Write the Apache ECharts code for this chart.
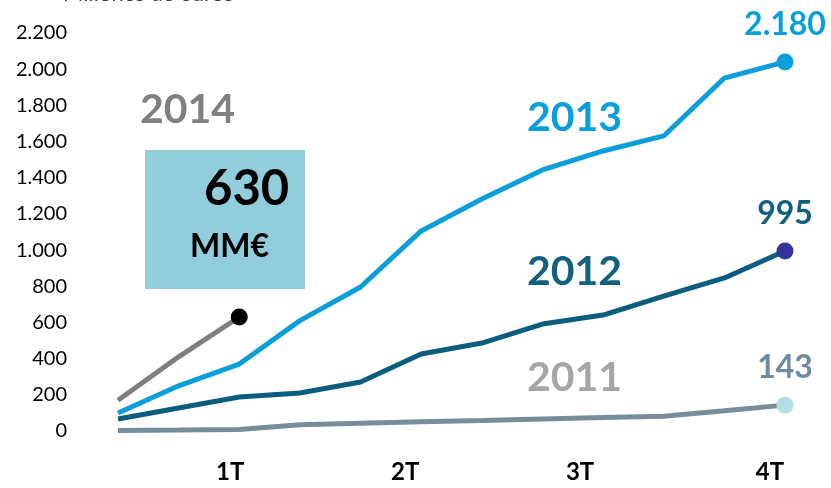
<!DOCTYPE html>
<html>
<head>
<meta charset="utf-8">
<script src="https://cdn.jsdelivr.net/npm/echarts@6/dist/echarts.min.js"></script>
<style>
  html, body { margin: 0; padding: 0; background: #fff; }
  #chart { width: 831px; height: 488px; }
</style>
</head>
<body>
<div id="chart"></div>
<script>
// months of the year, quarter labels shown at Mar / Jun / Sep / Dec
const months = ['Ene', 'Feb', 'Mar', 'Abr', 'May', 'Jun', 'Jul', 'Ago', 'Sep', 'Oct', 'Nov', 'Dic'];
const quarterLabels = { 2: '1T', 5: '2T', 8: '3T', 11: '4T' };

// accumulated values (MM€)
const values2011 = [3, 5, 8, 35, 43, 51, 58, 66, 74, 82, 112, 143];
const values2012 = [66, 127, 188, 210, 271, 426, 486, 591, 641, 746, 846, 995];
const values2013 = [100, 250, 370, 610, 796, 1106, 1282, 1443, 1548, 1631, 1951, 2040];
const values2014 = [170, 410, 630];

// texts shown above the last point of each year
const endLabel2011 = '143';
const endLabel2012 = '995';
const endLabel2013 = '2.180';

const yTicks = { min: 0, max: 2200, interval: 200 };

const FONT = 'Lato';

const chart = echarts.init(document.getElementById('chart'));

function thousands(v) {
  return String(v).replace(/\B(?=(\d{3})+(?!\d))/g, '.');
}

function yearSeries(name, data, lineColor, dotColor, endText, labelColor) {
  const last = data.length - 1;
  return {
    name: name,
    type: 'line',
    data: data,
    smooth: false,
    showAllSymbol: true,
    symbol: 'circle',
    symbolSize: (v, p) => (p.dataIndex === last ? 17 : 0),
    lineStyle: { color: lineColor, width: 5 },
    itemStyle: { color: dotColor },
    label: {
      show: true,
      position: 'top',
      distance: 13,
      formatter: p => (p.dataIndex === last ? endText : ''),
      color: labelColor,
      fontFamily: FONT,
      fontWeight: 'bold',
      fontSize: 32
    },
    emphasis: { disabled: true },
    z: 3
  };
}

const quarterStyle = pad => ({
  padding: [0, pad, 0, 0], fontFamily: FONT, fontWeight: 'bold', fontSize: 24, color: '#000'
});

const option = {
  animation: false,
  backgroundColor: '#fff',
  grid: { left: 118, right: 46, top: 33, bottom: 57 },
  xAxis: {
    type: 'category',
    data: months,
    boundaryGap: false,
    axisLine: { show: false },
    axisTick: { show: false },
    splitLine: { show: false },
    axisLabel: {
      interval: i => quarterLabels[i] !== undefined,
      margin: 29,
      formatter: (v, i) => {
        const q = quarterLabels[i];
        return q ? '{q' + i + '|' + q + '}' : '';
      },
      color: '#000',
      fontFamily: FONT,
      fontWeight: 'bold',
      fontSize: 24,
      rich: {
        q2: quarterStyle(18),
        q5: quarterStyle(32),
        q8: quarterStyle(46),
        q11: quarterStyle(30)
      }
    }
  },
  yAxis: {
    type: 'value',
    min: yTicks.min,
    max: yTicks.max,
    interval: yTicks.interval,
    axisLine: { show: false },
    axisTick: { show: false },
    splitLine: { show: false },
    axisLabel: {
      margin: 51,
      formatter: v => thousands(v),
      color: '#000',
      fontFamily: FONT,
      fontSize: 20
    }
  },
  graphic: [
    {
      type: 'text', left: 63, top: -17,
      style: { text: 'Millones de euros', fill: '#404040', font: '22px ' + FONT }
    },
    {
      type: 'text', left: 140, top: 89,
      style: { text: '2014', fill: '#808080', font: 'bold 41px ' + FONT }
    },
    {
      type: 'text', left: 527, top: 97,
      style: { text: '2013', fill: '#0a9edb', font: 'bold 41px ' + FONT }
    },
    {
      type: 'text', left: 527, top: 251,
      style: { text: '2012', fill: '#13617f', font: 'bold 41px ' + FONT }
    },
    {
      type: 'text', left: 527, top: 357,
      style: { text: '2011', fill: '#a6a6a6', font: 'bold 41px ' + FONT }
    },
    {
      type: 'rect', left: 145, top: 150, z: 1,
      shape: { width: 160, height: 139 },
      style: { fill: '#92cddc' }
    },
    {
      type: 'text', left: 204, top: 165, z: 2,
      style: { text: '630', fill: '#000', font: 'bold 49px ' + FONT }
    },
    {
      type: 'text', left: 190, top: 231, z: 2,
      style: { text: 'MM€', fill: '#000', font: 'bold 32px ' + FONT }
    }
  ],
  series: [
    yearSeries('2011', values2011, '#768e9c', '#b5dde2', endLabel2011, '#6f8ba0'),
    yearSeries('2012', values2012, '#0b5d80', '#333399', endLabel2012, '#145f80'),
    yearSeries('2013', values2013, '#0a9edb', '#0a9edb', endLabel2013, '#0a9edb'),
    yearSeries('2014', values2014, '#7f7f7f', '#000000', '', '#000')
  ]
};

chart.setOption(option);
window.addEventListener('resize', () => chart.resize());
</script>
</body>
</html>
